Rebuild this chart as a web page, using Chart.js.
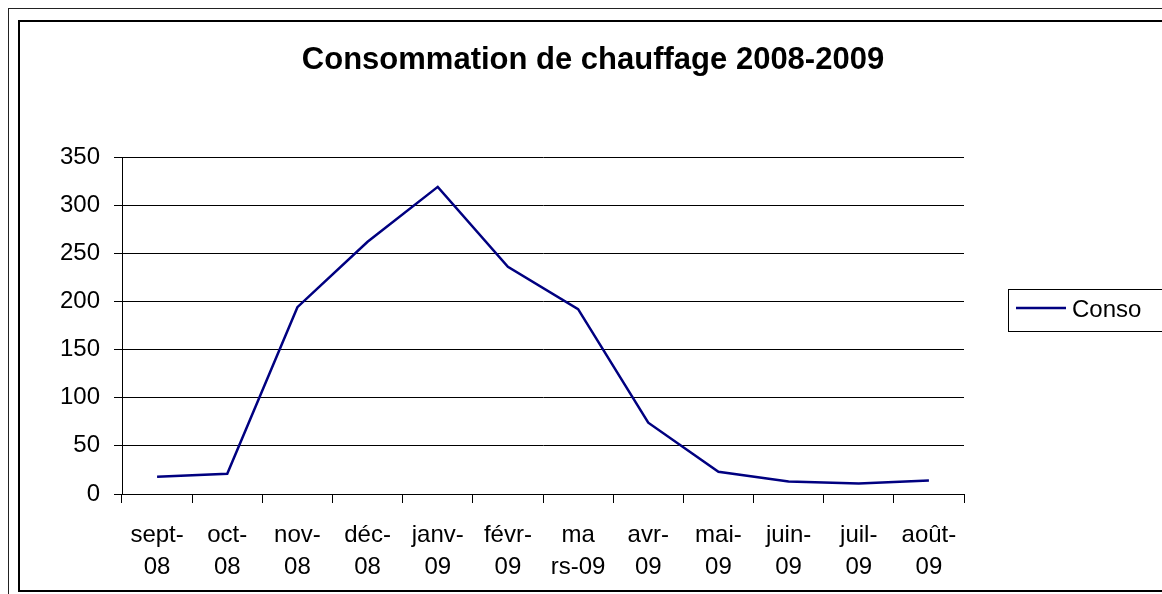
<!DOCTYPE html>
<html>
<head>
<meta charset="utf-8">
<script src="https://cdn.jsdelivr.net/npm/chart.js@4.4.0/dist/chart.umd.min.js"></script>
<style>
  html, body { margin: 0; padding: 0; background: #fff; overflow: hidden; width: 1162px; height: 594px; }
  .outer { position: absolute; left: 8px; top: 8px; width: 2000px; height: 2000px; border: 1px solid #222; box-sizing: border-box; }
  .inner { position: absolute; left: 18px; top: 20px; width: 2000px; height: 572px; border: 2px solid #000; box-sizing: border-box; }
  #c { position: absolute; left: 12px; top: 0px; }
</style>
</head>
<body>
<div class="outer"></div>
<div class="inner"></div>
<canvas id="c" width="1162" height="594"></canvas>
<script>
const titleText = "Consommation de chauffage 2008-2009";
const categories = [
  ["sept-", "08"], ["oct-", "08"], ["nov-", "08"], ["déc-", "08"],
  ["janv-", "09"], ["févr-", "09"], ["ma", "rs-09"], ["avr-", "09"],
  ["mai-", "09"], ["juin-", "09"], ["juil-", "09"], ["août-", "09"]
];
const seriesName = "Conso";
const consoValues = [18, 21, 194, 262, 319, 236, 192, 74, 23, 13, 11, 14];
const yMin = 0, yMax = 350, yStep = 50;

const FONT = "'Liberation Sans', Arial, sans-serif";

const boxLegend = {
  id: 'boxLegend',
  afterDraw(chart) {
    const ctx = chart.ctx;
    const ds = chart.data.datasets[0];
    ctx.save();
    ctx.strokeStyle = '#000';
    ctx.lineWidth = 1;
    ctx.strokeRect(996.5, 289.5, 154, 42);
    ctx.strokeStyle = ds.borderColor;
    ctx.lineWidth = ds.borderWidth;
    ctx.beginPath();
    ctx.moveTo(1004, 308);
    ctx.lineTo(1054, 308);
    ctx.stroke();
    ctx.fillStyle = '#000';
    ctx.font = "24px " + FONT;
    ctx.textBaseline = 'middle';
    ctx.textAlign = 'left';
    ctx.fillText(ds.label, 1060, 310);
    ctx.restore();
  }
};

new Chart(document.getElementById('c'), {
  type: 'line',
  data: {
    labels: categories,
    datasets: [{
      label: seriesName,
      data: consoValues,
      borderColor: '#000080',
      borderWidth: 2.5,
      pointRadius: 0,
      fill: false,
      tension: 0
    }]
  },
  options: {
    responsive: false,
    animation: false,
    devicePixelRatio: 1,
    layout: { padding: 0 },
    plugins: {
      legend: { display: false },
      tooltip: { enabled: false },
      title: {
        display: true,
        text: titleText,
        color: '#000',
        font: { family: FONT, size: 31, weight: 'bold', lineHeight: 1.2 },
        padding: { top: 42, bottom: 77.8 }
      }
    },
    scales: {
      x: {
        offset: true,
        grid: { display: true, drawOnChartArea: false, drawTicks: true, tickLength: 9, offset: true, color: '#000', lineWidth: 1 },
        border: { display: true, color: '#000', width: 1 },
        ticks: { color: '#000', padding: 16, maxRotation: 0, autoSkip: false, font: { family: FONT, size: 24, lineHeight: 1.33 } },
        afterFit(scale) { scale.height = 100; }
      },
      y: {
        min: yMin, max: yMax,
        ticks: { stepSize: yStep, color: '#000', padding: 14, font: { family: FONT, size: 24 } },
        grid: { color: '#000', lineWidth: 1, drawTicks: true, tickLength: 8 },
        border: { display: true, color: '#000', width: 1 },
        afterFit(scale) { scale.width = 110; }
      },
      spacer: {
        type: 'linear',
        position: 'right',
        display: true,
        grid: { display: false, drawOnChartArea: false },
        border: { display: false },
        ticks: { display: false },
        afterFit(scale) { scale.width = 210; }
      }
    }
  },
  plugins: [boxLegend]
});
</script>
</body>
</html>
